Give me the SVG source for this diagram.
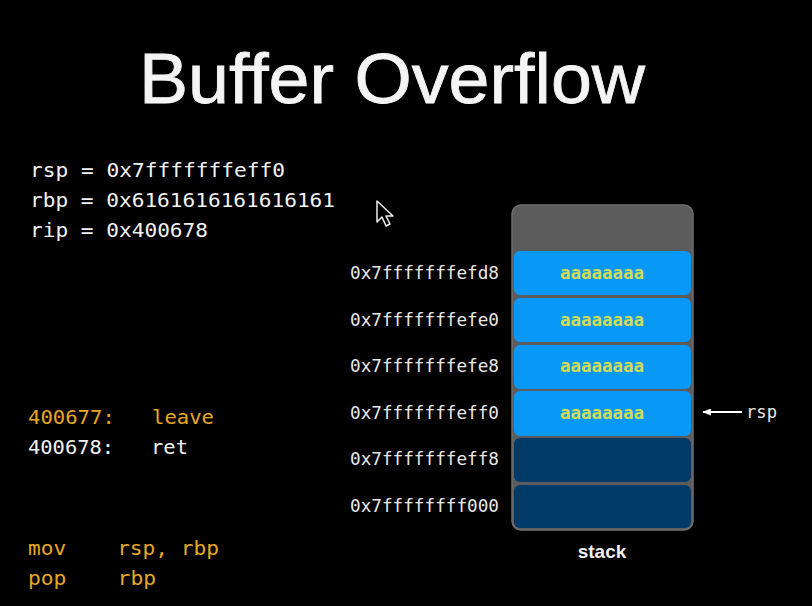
<svg xmlns="http://www.w3.org/2000/svg" width="812" height="606" viewBox="0 0 812 606">
<defs>
<style>
.mono{font-family:"DejaVu Sans Mono","Liberation Mono",monospace;}
.reg{font-size:20px;fill:#f2f2f2;}
.addr{font-size:17px;fill:#e8e8e8;}
.aa{font-size:17px;fill:#d2dc52;text-anchor:middle;font-weight:bold;}
.org{fill:#e6a823;}
.blue{fill:#0898f8;}
.dark{fill:#003a68;}
</style>
<marker id="ah" viewBox="0 0 10 8" refX="9" refY="4" markerWidth="9" markerHeight="7" markerUnits="userSpaceOnUse" orient="auto">
<path d="M0,0 L10,4 L0,8 Z" fill="#fff"/>
</marker>
</defs>
<rect width="812" height="606" fill="#000"/>
<text x="392" y="103" text-anchor="middle" font-family="Liberation Sans, Arial, sans-serif" font-size="71" fill="#f4f4f4" stroke="#f4f4f4" stroke-width="0.8" textLength="506" lengthAdjust="spacingAndGlyphs">Buffer Overflow</text>
<g id="registers" class="mono reg">
<text x="30" y="177" textLength="255" lengthAdjust="spacingAndGlyphs">rsp = 0x7fffffffeff0</text>
<text x="30" y="207" textLength="305" lengthAdjust="spacingAndGlyphs">rbp = 0x6161616161616161</text>
<text x="30" y="237" textLength="178" lengthAdjust="spacingAndGlyphs">rip = 0x400678</text>
</g>
<g id="cursor">
<path d="M377,201 L377,222 L382,217 L386,226 L390,224 L386,216 L393,216 Z" fill="#000" stroke="#eee" stroke-width="1.5" stroke-linejoin="round"/>
</g>
<g id="code" class="mono" font-size="20">
<text x="28" y="424" class="org" xml:space="preserve" textLength="186" lengthAdjust="spacingAndGlyphs">400677:   leave</text>
<text x="28" y="454" fill="#f2f2f2" xml:space="preserve" textLength="160" lengthAdjust="spacingAndGlyphs">400678:   ret</text>
<text x="28" y="555" class="org" xml:space="preserve" textLength="191" lengthAdjust="spacingAndGlyphs">mov    rsp, rbp</text>
<text x="28" y="585" class="org" xml:space="preserve" textLength="128" lengthAdjust="spacingAndGlyphs">pop    rbp</text>
</g>
<g id="stack">
<rect x="512" y="205" width="181" height="325" rx="9" fill="#5c5c5c" stroke="#6e6e6e" stroke-width="1.5"/>
<rect x="514" y="251" width="177" height="44" rx="6" class="blue"/>
<rect x="514" y="298" width="177" height="44" rx="6" class="blue"/>
<rect x="514" y="345" width="177" height="44" rx="6" class="blue"/>
<rect x="514" y="391" width="177" height="45" rx="6" class="blue"/>
<rect x="514" y="438" width="177" height="44" rx="6" class="dark"/>
<rect x="514" y="485" width="177" height="43" rx="6" class="dark"/>
<g class="mono aa">
<text x="602" y="279" textLength="84" lengthAdjust="spacingAndGlyphs">aaaaaaaa</text>
<text x="602" y="326" textLength="84" lengthAdjust="spacingAndGlyphs">aaaaaaaa</text>
<text x="602" y="372" textLength="84" lengthAdjust="spacingAndGlyphs">aaaaaaaa</text>
<text x="602" y="419" textLength="84" lengthAdjust="spacingAndGlyphs">aaaaaaaa</text>
</g>
<text x="602" y="558" text-anchor="middle" font-family="Liberation Sans, Arial, sans-serif" font-weight="bold" font-size="19" fill="#f0f0f0">stack</text>
</g>
<g id="addresses" class="mono addr">
<text x="350" y="279" textLength="149" lengthAdjust="spacingAndGlyphs">0x7fffffffefd8</text>
<text x="350" y="326" textLength="149" lengthAdjust="spacingAndGlyphs">0x7fffffffefe0</text>
<text x="350" y="372" textLength="149" lengthAdjust="spacingAndGlyphs">0x7fffffffefe8</text>
<text x="350" y="419" textLength="149" lengthAdjust="spacingAndGlyphs">0x7fffffffeff0</text>
<text x="350" y="465" textLength="149" lengthAdjust="spacingAndGlyphs">0x7fffffffeff8</text>
<text x="350" y="512" textLength="149" lengthAdjust="spacingAndGlyphs">0x7ffffffff000</text>
</g>
<g id="connectors">
<line x1="742" y1="412" x2="703" y2="412" stroke="#fff" stroke-width="1.8" marker-end="url(#ah)"/>
</g>
<g id="rsp-label">
<text x="746" y="418" class="mono addr" textLength="31" lengthAdjust="spacingAndGlyphs">rsp</text>
</g>
</svg>
